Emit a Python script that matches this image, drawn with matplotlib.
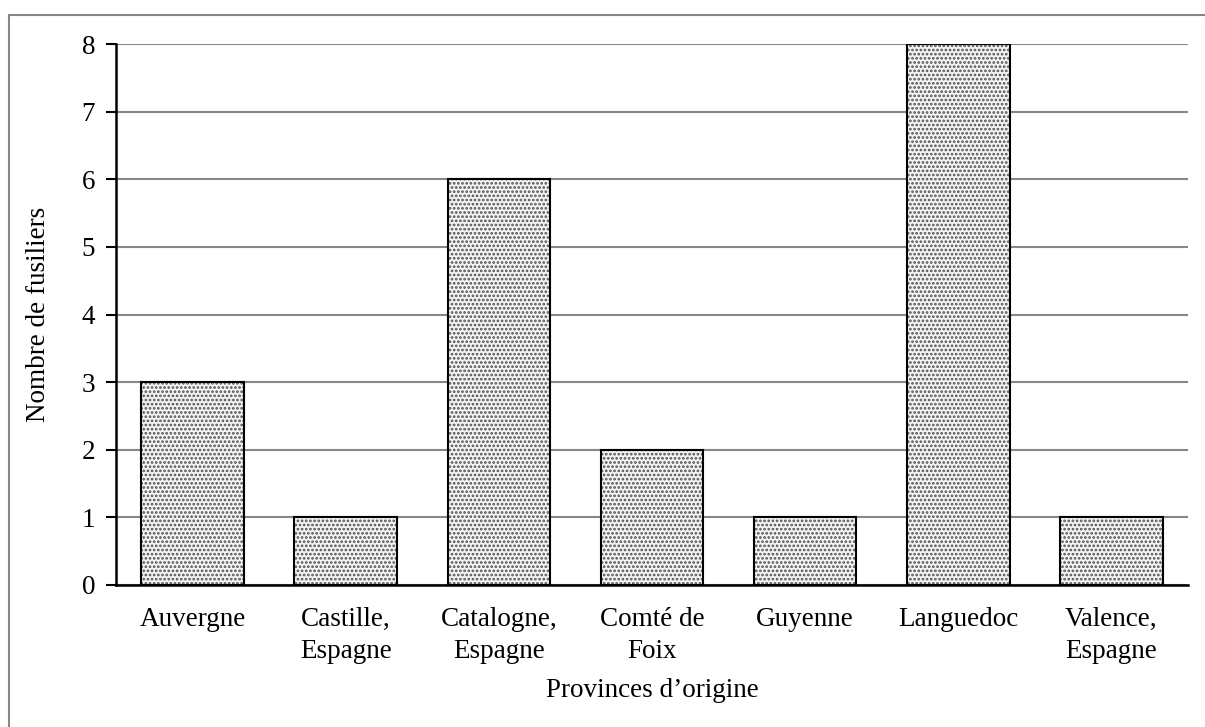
import matplotlib.pyplot as plt
from matplotlib.lines import Line2D

provinces = ['Auvergne', 'Castille,\nEspagne', 'Catalogne,\nEspagne', 'Comté de\nFoix',
             'Guyenne', 'Languedoc', 'Valence,\nEspagne']
fusiliers = [3, 1, 6, 2, 1, 8, 1]
y_ticks = [0, 1, 2, 3, 4, 5, 6, 7, 8]

plt.rcParams['font.family'] = ['Liberation Serif', 'DejaVu Serif']
plt.rcParams['hatch.linewidth'] = 1.3

fig = plt.figure(figsize=(12.05, 7.27), dpi=100)
ax = fig.add_axes([116 / 1205, 1 - 585 / 727, (1188 - 116) / 1205, (585 - 44) / 727])

x = range(len(provinces))
# dotted fill, then black outline on top
ax.bar(x, fusiliers, width=0.67, color='#f4f4f4', edgecolor='#505050',
       hatch='....', linewidth=0, zorder=2)
ax.bar(x, fusiliers, width=0.67, fill=False, edgecolor='black',
       linewidth=1.5, zorder=3)

ax.set_xlim(-0.5, len(provinces) - 0.5)
ax.set_ylim(0, 8)
ax.set_yticks(y_ticks)
ax.set_xticks(list(x))
ax.set_xticklabels(provinces, fontsize=19.5, linespacing=1.38)
ax.tick_params(axis='y', labelsize=19.5, length=7, width=1.5, direction='out', pad=8)
ax.tick_params(axis='x', length=0, pad=16)
ax.yaxis.grid(True, color='#878787', linewidth=1.5, zorder=0)
ax.set_axisbelow(True)

for side in ['top', 'right']:
    ax.spines[side].set_visible(False)
for side in ['left', 'bottom']:
    ax.spines[side].set_linewidth(1.8)

ax.set_ylabel('Nombre de fusiliers', fontsize=19.5, labelpad=22)
ax.set_xlabel('Provinces d’origine', fontsize=19.5, labelpad=10)

# chart frame (only top and left visible in the crop)
fig.add_artist(Line2D([8.5 / 1205, 1], [1 - 14.5 / 727] * 2, color='#878787', linewidth=1.5))
fig.add_artist(Line2D([8.5 / 1205] * 2, [0, 1 - 14.5 / 727], color='#878787', linewidth=1.5))

fig.savefig('out.png', dpi=100)
